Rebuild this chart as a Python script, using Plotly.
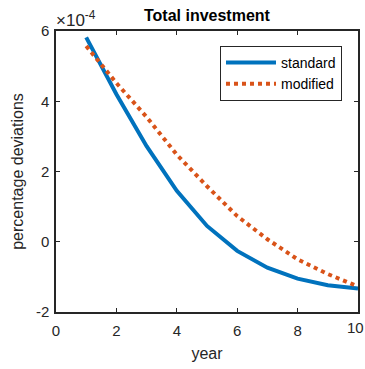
import plotly.graph_objects as go

years = [1, 2, 3, 4, 5, 6, 7, 8, 9, 10]
standard = [5.82, 4.2, 2.72, 1.45, 0.45, -0.26, -0.74, -1.05, -1.24, -1.33]
modified = [5.57, 4.52, 3.55, 2.48, 1.58, 0.73, 0.07, -0.50, -0.92, -1.27]
xticks = [0, 2, 4, 6, 8, 10]
xticklabels = ["0", "2", "4", "6", "8", "10"]
yticks = [-2, 0, 2, 4, 6]
yticklabels = ["-2", "0", "2", "4", "6"]

fig = go.Figure()
fig.add_trace(go.Scatter(x=years, y=standard, mode="lines", name="standard",
                         line=dict(color="#0072BD", width=4)))
fig.add_trace(go.Scatter(x=years, y=modified, mode="lines", name="modified",
                         line=dict(color="#D95319", width=4, dash="dot")))

font = "Liberation Sans, Arial, sans-serif"
tickfont = dict(family=font, size=15, color="#262626")
axis_common = dict(showgrid=False, zeroline=False, showline=True, linecolor="#262626",
                   linewidth=1.5, mirror="ticks", ticks="inside", ticklen=4, automargin=False,
                   tickcolor="#262626", tickfont=tickfont)

fig.update_layout(
    width=365, height=369,
    margin=dict(l=56, r=7, t=31, b=57),
    paper_bgcolor="white", plot_bgcolor="white",
    title=dict(text="<b>Total investment</b>", x=0.567, xanchor="center", y=0.958, yanchor="middle",
               font=dict(family=font, size=16, color="black")),
    xaxis=dict(range=[0, 10], tickvals=xticks[:-1], ticktext=xticklabels[:-1], ticklabelstandoff=4,
               title=dict(text="year", font=dict(family=font, size=16, color="#262626"), standoff=10),
               **axis_common),
    yaxis=dict(range=[-2, 6], tickvals=yticks, ticktext=yticklabels, ticklabelstandoff=2,
               title=dict(text="percentage deviations", font=dict(family=font, size=16, color="#262626"), standoff=8),
               **axis_common),
    legend=dict(x=0.947, y=0.947, xanchor="right", yanchor="top",
                bordercolor="#262626", borderwidth=1, bgcolor="white",
                font=dict(family=font, size=14, color="black"),
                tracegroupgap=0, itemwidth=50),
    showlegend=True,
)

# last x tick at the right edge, nudged so it stays inside the page
fig.add_annotation(xref="x", yref="paper", x=xticks[-1], y=0, xanchor="center", yanchor="top",
                   text=xticklabels[-1], showarrow=False, yshift=-5, xshift=-3,
                   font=tickfont)

fig.add_annotation(xref="paper", yref="paper", x=0.0, y=1.0, xanchor="left", yanchor="bottom",
                   text="×10<sup>-4</sup>", showarrow=False, yshift=-1, xshift=-2,
                   font=dict(family=font, size=17, color="#262626"))

fig.write_html("out.html")
